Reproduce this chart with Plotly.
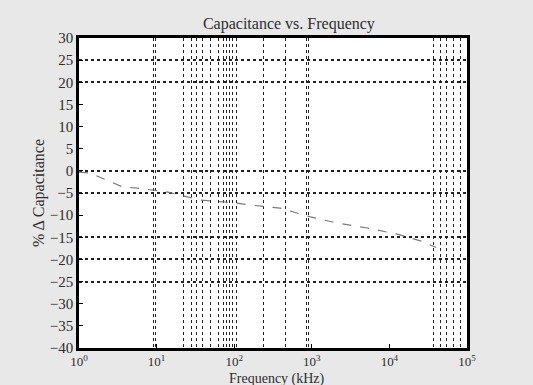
import plotly.graph_objects as go

# Data
freq_khz = [1, 1.4, 3.6, 5.7, 14, 37, 98, 177, 390, 960, 2130, 5200, 12600, 25000, 40000]
cap_change = [-0.3, -0.5, -3.6, -3.9, -4.8, -6.6, -7.2, -7.8, -8.4, -10.4, -11.8, -12.9, -14.3, -15.8, -17.3]

x_tick_vals = [1, 10, 100, 1000, 10000, 100000]
x_tick_text = ["10<sup>0</sup>", "10<sup>1</sup>", "10<sup>2</sup>", "10<sup>3</sup>", "10<sup>4</sup>", "10<sup>5</sup>"]
y_tick_vals = list(range(-40, 31, 5))

x_grid_vals = [9.1, 9.8, 22, 28, 33, 39, 50, 63, 72, 80, 87, 95, 107, 236, 457, 845, 896,
               37000, 45000, 55000, 67000, 82000]
y_grid_vals = [25, 20, 0, -5, -15, -20, -25]

serif = "Liberation Serif, DejaVu Serif, serif"
txt = "#2e2e2e"

fig = go.Figure()
fig.add_trace(go.Scatter(
    x=freq_khz, y=cap_change, mode="lines",
    line=dict(color="#7a7a7a", width=1.2, dash="dash"),
    showlegend=False,
))

fig.update_layout(
    width=533, height=385,
    margin=dict(l=79, r=66, t=38, b=37),
    paper_bgcolor="#e8e8e8",
    plot_bgcolor="white",
    title=dict(text="Capacitance vs. Frequency", x=0.542, xref="container", xanchor="center",
               y=0.94, yref="container", yanchor="middle",
               font=dict(family=serif, size=16, color=txt)),
    font=dict(family=serif, size=15, color=txt),
    showlegend=False,
    annotations=[dict(text="Frequency (kHz)", xref="paper", yref="paper", x=0.51, y=-0.068,
                      xanchor="center", yanchor="top", showarrow=False,
                      font=dict(family=serif, size=14, color=txt))],
)

fig.update_xaxes(
    type="log", range=[0, 5], automargin=False,
    tickvals=x_tick_vals, ticktext=x_tick_text,
    ticks="inside", ticklen=4, tickcolor="black",
    showline=True, linecolor="black", linewidth=2.5, mirror=True,
    showgrid=False, zeroline=False,
    tickfont=dict(family=serif, size=13, color=txt),
    minor=dict(tickvals=x_grid_vals, showgrid=True, gridcolor="#222222", griddash="dot",
               gridwidth=1.4, ticks=""),
)

fig.update_yaxes(
    range=[-40, 30], automargin=False,
    tickvals=y_tick_vals,
    ticks="inside", ticklen=4, tickcolor="black",
    showline=True, linecolor="black", linewidth=2.5, mirror=True,
    showgrid=False, zeroline=False,
    tickfont=dict(family=serif, size=15, color=txt),
    title=dict(text="% \u0394 Capacitance", standoff=2, font=dict(family=serif, size=16, color=txt)),
    minor=dict(tickvals=y_grid_vals, showgrid=True, gridcolor="#222222", griddash="dot",
               gridwidth=1.6, ticks=""),
)

fig.write_html("out.html", config={"displayModeBar": False},
               post_script="document.body.style.margin='0';")
